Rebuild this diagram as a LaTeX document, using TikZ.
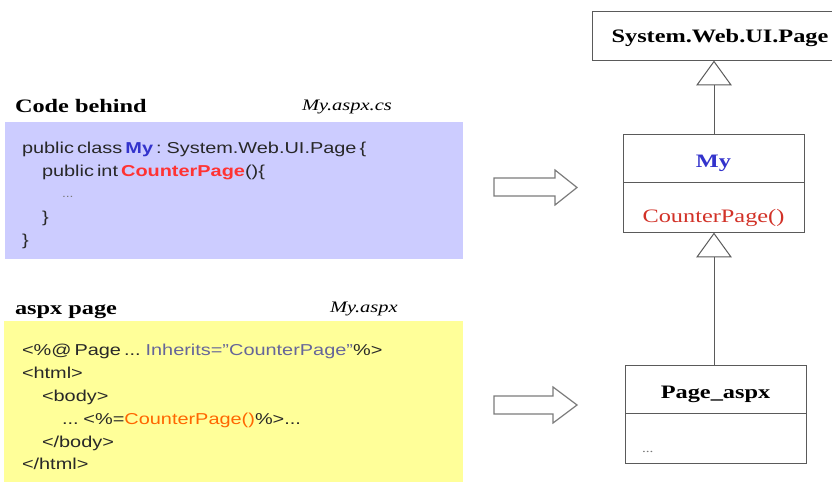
\documentclass[tikz,border=0pt]{standalone}
\usepackage{fontspec}
\setmainfont{Liberation Serif}[FakeStretch=1.28]
\setsansfont{Liberation Sans}[FakeStretch=1.26, WordSpace=0.55]
\definecolor{blueFill}{RGB}{204,204,255}
\definecolor{yellowFill}{RGB}{255,255,153}
\definecolor{codeText}{RGB}{40,40,40}
\definecolor{myBlue}{RGB}{51,51,204}
\definecolor{cpRed}{RGB}{255,51,51}
\definecolor{inhColor}{RGB}{102,102,153}
\definecolor{cpOrange}{RGB}{255,102,0}
\definecolor{umlRed}{RGB}{210,50,40}
\definecolor{lineGray}{RGB}{90,90,90}
\definecolor{dotGray}{RGB}{120,120,120}
\begin{document}
\begin{tikzpicture}[x=1pt,y=-1pt,
  every node/.style={inner sep=0pt, outer sep=0pt},
  title/.style={font=\fontsize{19}{23}\selectfont\bfseries, anchor=base west},
  fname/.style={font=\fontsize{16}{20}\selectfont\itshape, anchor=base west},
  code/.style={font=\sffamily\fontsize{15.8}{23}\selectfont, text=codeText, anchor=base west},
  umlbox/.style={draw=lineGray, line width=1pt, fill=white},
  umltext/.style={font=\fontsize{19}{23}\selectfont, anchor=base},
  blockarrow/.style={draw=lineGray!80, line width=1.2pt, fill=white, line join=miter},
  inherit/.style={draw=lineGray, line width=1pt}
]
\useasboundingbox (0,0) rectangle (832,486);

% --- Code behind panel
\node[title] (cbt) at (15,113) {Code behind};
\node[fname] (cbf) at (302,111) {My.aspx.cs};
\fill[blueFill] (5,122) rectangle (463,259);
\node[code] (c1) at (22,153.5) {public class \textcolor{myBlue}{\bfseries My} : System.Web.UI.Page \{};
\node[code] (c2) at (42,176.5) {public int \textcolor{cpRed}{\bfseries CounterPage}()\{};
\node[code, text=dotGray, font=\sffamily\fontsize{11}{14}\selectfont] (c3) at (62,197.5) {...};
\node[code] (c4) at (42,222.5) {\}};
\node[code] (c5) at (22,245.5) {\}};

% --- aspx page panel
\node[title] (apt) at (15,314) {aspx page};
\node[fname] (apf) at (330,312) {My.aspx};
\fill[yellowFill] (4,321) rectangle (463,482);
\node[code] (a1) at (22,355.5) {<\%@ Page ... \textcolor{inhColor}{Inherits="CounterPage"}\%>};
\node[code] (a2) at (22,378.5) {<html>};
\node[code] (a3) at (42,401.5) {<body>};
\node[code] (a4) at (62,424.5) {... <\%=\textcolor{cpOrange}{CounterPage()}\%>...};
\node[code] (a5) at (42,447.5) {</body>};
\node[code] (a6) at (22,469.5) {</html>};

% --- block arrows
\draw[blockarrow] (494,178) -- (555,178) -- (555,170) -- (577,187.5) -- (555,205) -- (555,196) -- (494,196) -- cycle;
\draw[blockarrow] (494,396) -- (553,396) -- (553,387) -- (577,405) -- (553,423) -- (553,414) -- (494,414) -- cycle;

% --- UML classes
\node[umlbox, minimum width=240pt, minimum height=49pt] (sys) at (712,36.5) {};
\node[umltext, font=\fontsize{19}{23}\selectfont\bfseries] (systx) at (720,43) {System.Web.UI.Page};

\node[umlbox, minimum width=181pt, minimum height=98pt] (my) at (713.5,184) {};
\draw[lineGray, line width=1pt] (my.west |- 0,183) coordinate (myl) -- (my.east |- 0,183) coordinate (myr);
\node[umltext, font=\fontsize{19}{23}\selectfont\bfseries, text=myBlue] (mytx) at (713.5,168) {My};
\node[umltext, text=umlRed] (mycp) at (713.5,223) {CounterPage()};

\node[umlbox, minimum width=181pt, minimum height=98pt] (pa) at (715.5,414) {};
\draw[lineGray, line width=1pt] (pa.west |- 0,413) coordinate (pal) -- (pa.east |- 0,413) coordinate (par);
\node[umltext, font=\fontsize{19}{23}\selectfont\bfseries] (patx) at (715.5,398) {Page\_aspx};
\node[anchor=base west, font=\fontsize{12}{14}\selectfont, text=dotGray] (padots) at (642,452) {...};

% --- inheritance connectors
\coordinate (t1base) at (714,85);
\draw[inherit] (my.north -| t1base) -- (t1base);
\draw[inherit, fill=white, line join=miter] (714,61.5) -- (731,85) -- (697,85) -- cycle;
\coordinate (t2base) at (714,257);
\draw[inherit] (pa.north -| t2base) -- (t2base);
\draw[inherit, fill=white, line join=miter] (714,233.5) -- (731,257) -- (697,257) -- cycle;
\end{tikzpicture}
\end{document}
